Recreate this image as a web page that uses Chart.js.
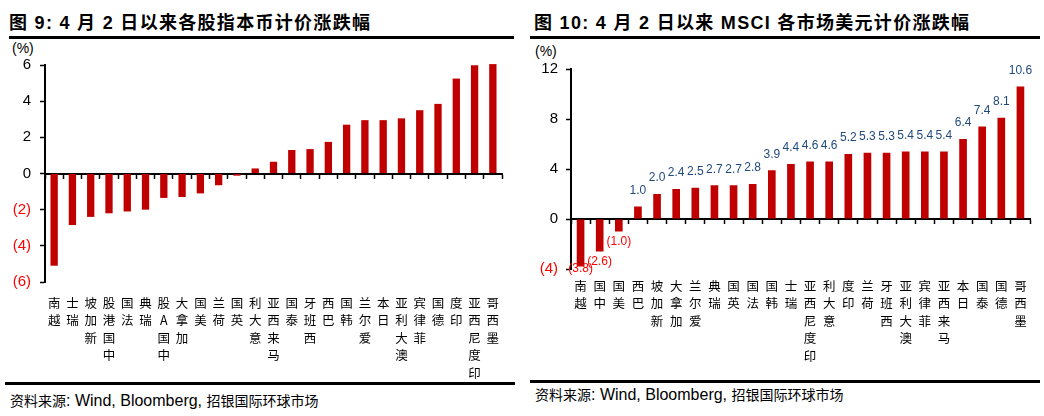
<!DOCTYPE html>
<html>
<head>
<meta charset="utf-8">
<script src="https://cdn.jsdelivr.net/npm/chart.js@4.4.1/dist/chart.umd.min.js"></script>
<style>
  body { margin: 0; background: #fff; width: 1044px; height: 416px; position: relative; overflow: hidden; }
  .title { position: absolute; top: 8px; font: bold 18px "Liberation Sans", "Noto Sans CJK SC", sans-serif; letter-spacing: 1.3px; color: #000; white-space: nowrap; }
  .rule { position: absolute; height: 3px; background: #000; }
  .foot { position: absolute; white-space: nowrap; color: #000; font: 16px "Liberation Sans", Arial, sans-serif; }
  .foot .cn { font: 14px "Noto Sans CJK SC", sans-serif; }
  .unit { position: absolute; font: 14px "Liberation Sans", Arial, sans-serif; color: #000; }
  canvas { position: absolute; }
</style>
</head>
<body>
<div class="title" style="left:9px">图 9: 4 月 2 日以来各股指本币计价涨跌幅</div>
<div class="title" style="left:534px">图 10: 4 月 2 日以来 MSCI 各市场美元计价涨跌幅</div>
<div class="rule" style="left:9px;width:505px;top:36px"></div>
<div class="rule" style="left:530px;width:510px;top:36px"></div>

<div class="unit" style="left:12px;top:40px">(%)</div>
<div class="unit" style="left:535px;top:43px">(%)</div>

<canvas id="left" width="515" height="340" style="left:0;top:40px"></canvas>
<canvas id="right" width="516" height="340" style="left:528px;top:40px"></canvas>

<div class="rule" style="left:5px;width:510px;top:382px"></div>
<div class="rule" style="left:530px;width:510px;top:380px"></div>
<div class="foot" style="left:10px;top:390px"><span class="cn">资料来源</span>: Wind, Bloomberg, <span class="cn">招银国际环球市场</span></div>
<div class="foot" style="left:535px;top:384px"><span class="cn">资料来源</span>: Wind, Bloomberg, <span class="cn">招银国际环球市场</span></div>

<script>
// 图 9: local-currency index returns since 2 April
var leftMarkets = ["越南","瑞士","新加坡","中国港股","法国","瑞典","中国A股","加拿大","美国","荷兰",
  "英国","意大利","马来西亚","泰国","西班牙","巴西","韩国","爱尔兰","日本","澳大利亚",
  "菲律宾","德国","印度","印度尼西亚","墨西哥"];
var leftValues = [-5.1, -2.85, -2.4, -2.2, -2.1, -2.0, -1.35, -1.3, -1.1, -0.65,
  -0.12, 0.28, 0.65, 1.3, 1.35, 1.75, 2.7, 2.95, 2.95, 3.05,
  3.5, 3.85, 5.25, 5.98, 6.05];
var leftTicks = { min: -6, max: 6, step: 2 };

// 图 10: MSCI returns in USD since 2 April
var rightMarkets = ["越南","中国","美国","巴西","新加坡","加拿大","爱尔兰","瑞典","英国","法国",
  "韩国","瑞士","印度尼西亚","意大利","印度","荷兰","西班牙","澳大利亚","菲律宾","马来西亚",
  "日本","泰国","德国","墨西哥"];
var rightValues = [-3.8, -2.6, -1.0, 1.0, 2.0, 2.4, 2.5, 2.7, 2.7, 2.8,
  3.9, 4.4, 4.6, 4.6, 5.2, 5.3, 5.3, 5.4, 5.4, 5.4,
  6.4, 7.4, 8.1, 10.6];
var rightTicks = { min: -4, max: 12, step: 4 };

var BAR = "#C00000";
var NEG = "#FF0000";
var LABEL_BLUE = "#1F497D";
var latin = '"Liberation Sans", Arial, sans-serif';

// labels read bottom-to-top with upright characters
function vertical(names) {
  return names.map(function(s) { return Array.from(s).reverse(); });
}
function paren(v) {
  return v < 0 ? "(" + Math.abs(v) + ")" : "" + v;
}

var valueLabels = {
  id: "valueLabels",
  afterDatasetsDraw: function(chart) {
    if (!chart.options.plugins.valueLabels || !chart.options.plugins.valueLabels.show) return;
    var ctx = chart.ctx, area = chart.chartArea;
    var meta = chart.getDatasetMeta(0);
    var data = chart.data.datasets[0].data;
    ctx.save();
    ctx.font = "12px " + latin;
    ctx.textAlign = "center";
    ctx.textBaseline = "middle";
    meta.data.forEach(function(bar, i) {
      var v = data[i];
      var txt = v < 0 ? "(" + Math.abs(v).toFixed(1) + ")" : v.toFixed(1);
      ctx.fillStyle = v < 0 ? NEG : LABEL_BLUE;
      var y = v < 0 ? Math.min(bar.y + 10.5, area.bottom) : bar.y - 16;
      ctx.fillText(txt, bar.x, y);
    });
    ctx.restore();
  }
};

function makeChart(id, names, values, range, cfg) {
  return new Chart(document.getElementById(id), {
    type: "bar",
    data: {
      labels: vertical(names),
      datasets: [{
        data: values,
        backgroundColor: BAR,
        barPercentage: 0.4,
        categoryPercentage: 1,
        clip: false,
        xAxisID: "x",
        yAxisID: "y"
      }]
    },
    plugins: [valueLabels],
    options: {
      responsive: false,
      animation: false,
      layout: { padding: { left: cfg.padLeft, right: cfg.padRight, top: cfg.padTop, bottom: 0 } },
      plugins: {
        legend: { display: false },
        tooltip: { enabled: false },
        valueLabels: { show: cfg.showValues }
      },
      scales: {
        x: {
          position: "bottom",
          offset: true,
          grid: { display: false },
          border: { display: false },
          ticks: {
            autoSkip: false, maxRotation: 0, minRotation: 0,
            padding: cfg.xPad,
            color: "#000",
            font: { family: '"Noto Sans CJK SC", sans-serif', size: 12.5, lineHeight: 1.4 }
          },
          afterFit: function(s) { s.height = cfg.xHeight; }
        },
        x2: {
          type: "category",
          position: { y: 0 },
          offset: true,
          ticks: { display: false },
          grid: { drawOnChartArea: false, offset: true, color: "#000", tickLength: 4, tickWidth: 1.5 },
          border: { color: "#000", width: 2 }
        },
        y: {
          min: range.min, max: range.max,
          ticks: {
            stepSize: range.step,
            padding: cfg.yPad,
            callback: function(v) { return paren(v); },
            color: function(c) { return c.tick && c.tick.value < 0 ? NEG : "#000"; },
            font: { family: latin, size: 15 }
          },
          grid: { drawOnChartArea: false, color: "#000", tickLength: 5, tickWidth: 1.5 },
          border: { color: "#000", width: 2 },
          afterFit: function(s) { s.width = cfg.yWidth; }
        }
      }
    }
  });
}

makeChart("left", leftMarkets, leftValues, leftTicks, {
  padLeft: 5, padRight: 13, padTop: 25, yWidth: 40, yPad: 9, xPad: 4, xHeight: 98, showValues: false
});
makeChart("right", rightMarkets, rightValues, rightTicks, {
  padLeft: 3, padRight: 14, padTop: 29, yWidth: 40, yPad: 8, xPad: 0, xHeight: 111, showValues: true
});
</script>
</body>
</html>
